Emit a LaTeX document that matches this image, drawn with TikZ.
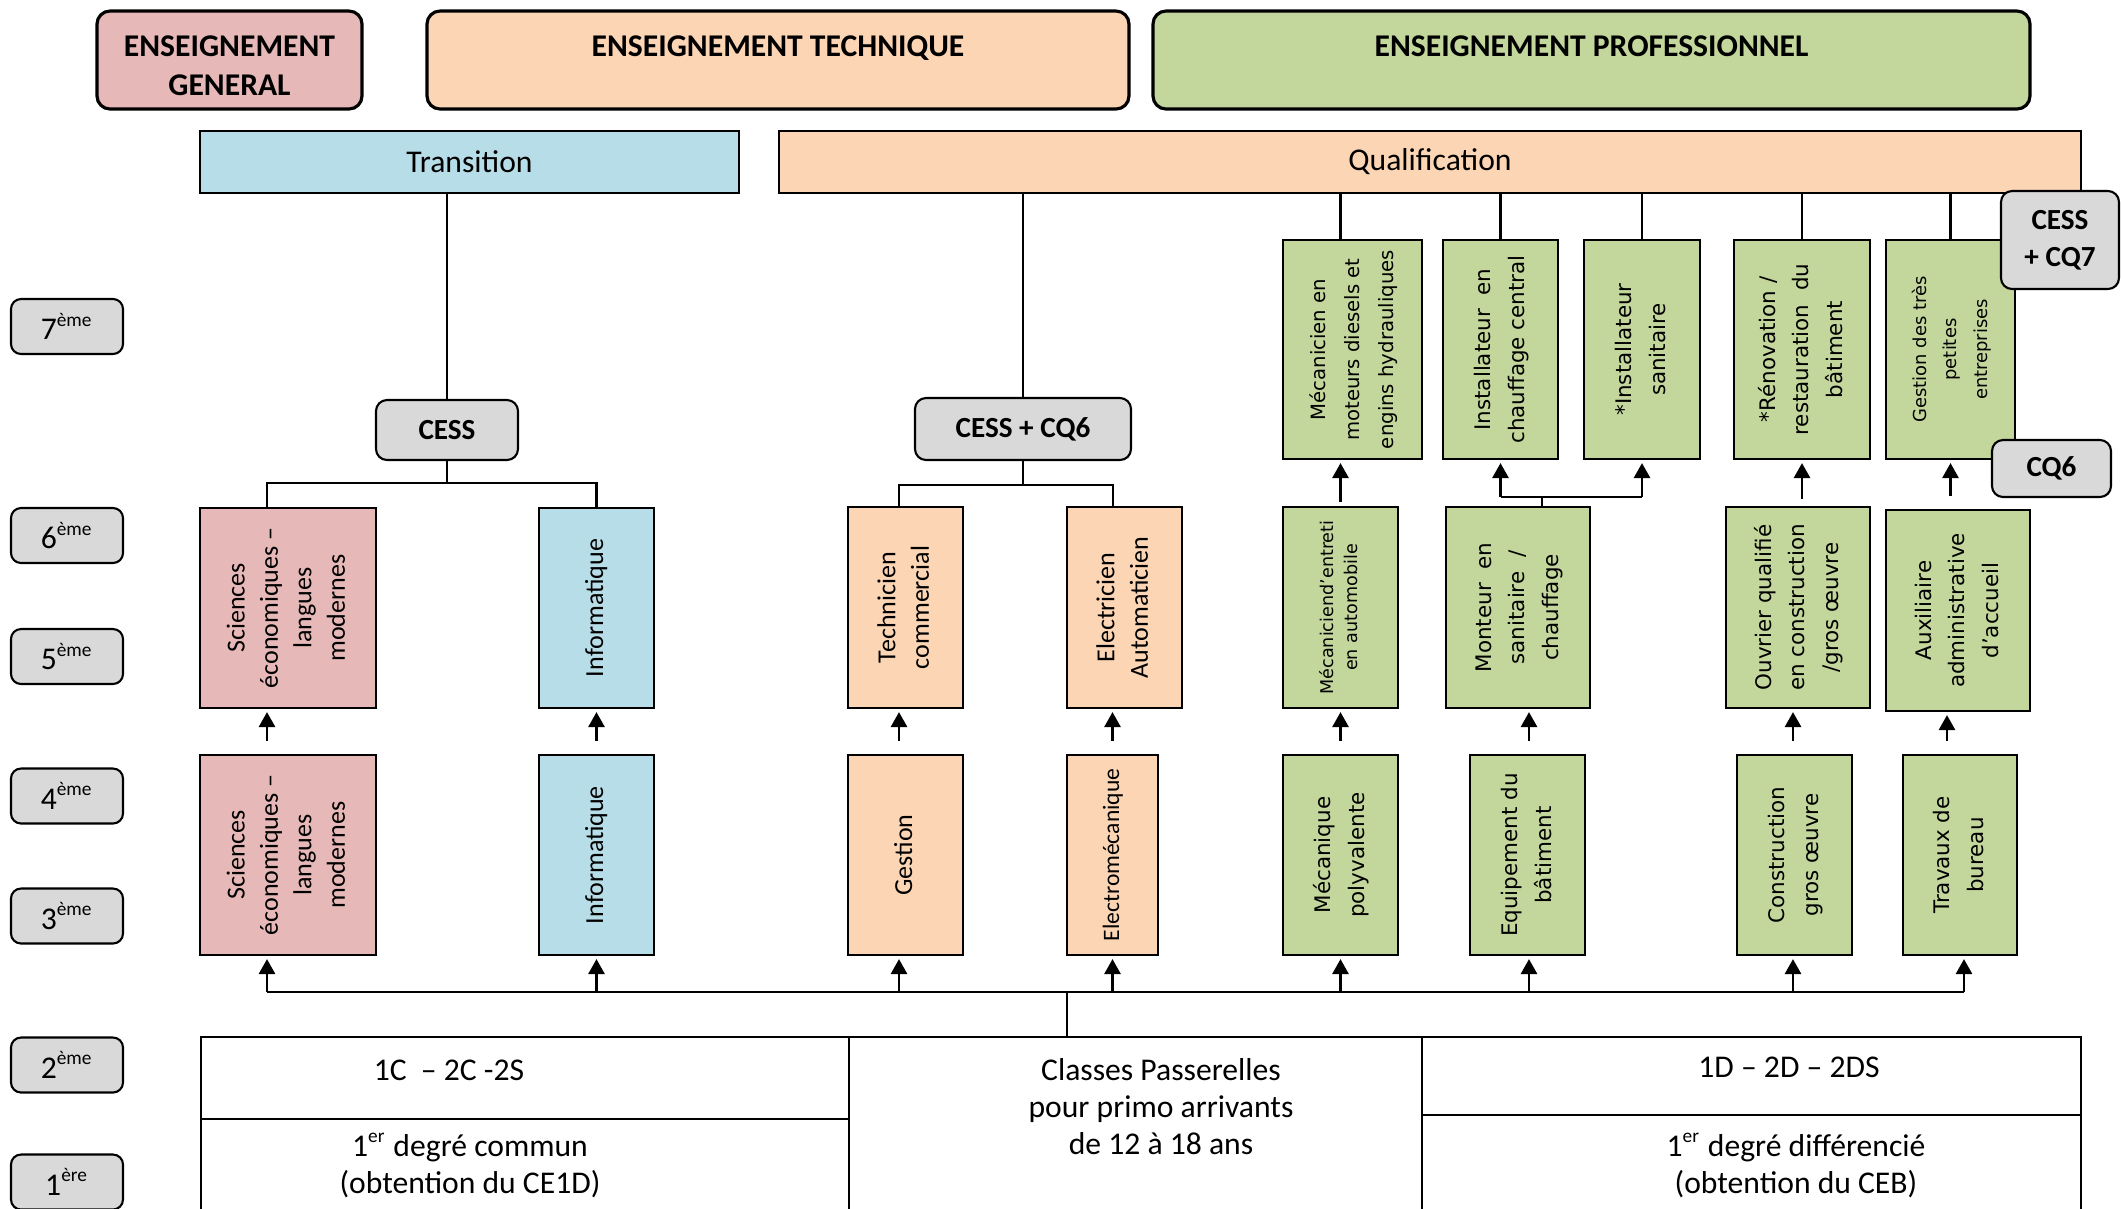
\documentclass[tikz,border=0pt]{standalone}
\usepackage{fontspec}
\usepackage{graphicx}
\setmainfont{Carlito}
\newfontfamily\verd{DejaVu Sans}
\usetikzlibrary{positioning,arrows.meta}

\definecolor{genpink}{HTML}{E6B9B8}
\definecolor{techorange}{HTML}{FCD5B5}
\definecolor{transblue}{HTML}{B7DEE8}
\definecolor{progreen}{HTML}{C3D69B}
\definecolor{certgray}{HTML}{D9D9D9}

% rotated multi-line labels
\newcommand{\rotlines}[2]{\rotatebox{90}{#1\begin{tabular}{@{}c@{}}#2\end{tabular}}}
\newcommand{\carl}{\fontsize{7.4}{9.5}\selectfont}
\newcommand{\carls}{\fontsize{6.7}{9.5}\selectfont}
\newcommand{\dvs}{\verd\fontsize{6.1}{9.6}\selectfont}
\newcommand{\dvsl}{\verd\fontsize{5.6}{9.6}\selectfont}
\newcommand{\dvsm}{\verd\fontsize{5.1}{8.7}\selectfont}
\newcommand{\dvss}{\verd\fontsize{5}{7}\selectfont}
\newcommand{\yrsup}[1]{\textsuperscript{\fontsize{5.5}{6}\selectfont #1}}

\tikzset{
  head/.style={draw,line width=0.9pt,rounded corners=0.13cm},
  headtxt/.style={inner sep=0pt,align=center,font=\fontsize{9}{11}\selectfont\bfseries},
  band/.style={draw,line width=0.8pt,minimum height=0.62cm,font=\fontsize{9}{11}\selectfont},
  lvl/.style={draw,fill=certgray,rounded corners=0.1cm,line width=0.6pt,minimum width=1.12cm,minimum height=0.55cm,font=\fontsize{9}{10}\selectfont},
  cert/.style={draw,fill=certgray,rounded corners=0.11cm,line width=0.6pt,align=center,font=\fontsize{8.3}{10.5}\selectfont\bfseries},
  pbox/.style={draw,line width=0.6pt,inner sep=0pt,minimum height=2cm},
  link/.style={line width=0.6pt},
  bus/.style={line width=0.75pt},
  arr/.style={line width=0.8pt,-{Triangle[length=0.15cm,width=0.16cm]},shorten >=0.03cm},
  cell/.style={draw,line width=0.5pt,inner sep=0pt},
  celltxt/.style={align=center,font=\fontsize{9}{10.5}\selectfont},
}

\begin{document}
\begin{tikzpicture}
    \useasboundingbox (0,0) rectangle (21.21,-12.08);
    \clip (0,0) rectangle (21.21,-12.08);
    %% Headers
    \node[head,fill=genpink,minimum width=2.65cm,minimum height=0.98cm] (hgen) at (2.295,-0.60) {};
    \node[headtxt,below=0.26cm of hgen.north] (hgen-t) {ENSEIGNEMENT\\GENERAL};
    \node[head,fill=techorange,minimum width=7.02cm,minimum height=0.98cm] (htech) at (7.78,-0.60) {};
    \node[headtxt,below=0.26cm of htech.north] (htech-t) {ENSEIGNEMENT TECHNIQUE};
    \node[head,fill=progreen,minimum width=8.77cm,minimum height=0.98cm] (hpro) at (15.915,-0.60) {};
    \node[headtxt,below=0.26cm of hpro.north] (hpro-t) {ENSEIGNEMENT PROFESSIONNEL};
    \node[band,fill=transblue,minimum width=5.39cm] (trans) at (4.695,-1.62) {Transition};
    \node[band,fill=techorange,minimum width=13.02cm] (qual) at (14.30,-1.62) {Qualification};
    %% Years
    \foreach \n/\y/\t in {7/-3.265/ème,6/-5.355/ème,5/-6.565/ème,4/-7.96/ème,3/-9.16/ème,2/-10.65/ème,1/-11.82/ère}
        \node[lvl] (lv\n) at (0.67,\y) {\n\yrsup{\t}};
    %% Certificates
    \node[cert,minimum width=1.42cm,minimum height=0.60cm] (cess) at (4.47,-4.30) {CESS};
    \node[cert,minimum width=2.16cm,minimum height=0.62cm] (cesscq6) at (10.23,-4.29) {CESS + CQ6};
    %% General and technical options
    \node[pbox,fill=genpink,minimum width=1.76cm] (sci2) at (2.88,-6.08) {\rotlines{\carl}{Sciences\\économiques –\\langues\\modernes}};
    \node[pbox,fill=transblue,minimum width=1.15cm] (info2) at (5.965,-6.08) {\rotlines{\carl}{Informatique}};
    \node[pbox,fill=techorange,minimum width=1.15cm,minimum height=2.01cm] (techcom) at (9.055,-6.075) {\rotlines{\carl}{Technicien\\commercial}};
    \node[pbox,fill=techorange,minimum width=1.15cm,minimum height=2.01cm] (elecauto) at (11.245,-6.075) {\rotlines{\carl}{Electricien\\Automaticien}};
    \node[pbox,fill=genpink,minimum width=1.76cm] (sci1) at (2.88,-8.55) {\rotlines{\carl}{Sciences\\économiques –\\langues\\modernes}};
    \node[pbox,fill=transblue,minimum width=1.15cm] (info1) at (5.965,-8.55) {\rotlines{\carl}{Informatique}};
    \node[pbox,fill=techorange,minimum width=1.15cm] (gestion) at (9.055,-8.55) {\rotlines{\carl}{Gestion}};
    \node[pbox,fill=techorange,minimum width=0.91cm] (electromec) at (11.125,-8.55) {\rotlines{\carls}{Electromécanique}};
    %% Professional options
    \node[pbox,fill=progreen,minimum width=1.39cm,minimum height=2.19cm] (mecmot) at (13.525,-3.495) {\rotlines{\dvsl}{Mécanicien en\\moteurs diesels et\\engins hydrauliques}};
    \node[pbox,fill=progreen,minimum width=1.15cm,minimum height=2.19cm] (instchauf) at (15.005,-3.495) {\rotlines{\dvs}{Installateur\ \ en\\chauffage central}};
    \node[pbox,fill=progreen,minimum width=1.16cm,minimum height=2.19cm] (instsan) at (16.42,-3.495) {\rotlines{\dvs}{*Installateur\\sanitaire}};
    \node[pbox,fill=progreen,minimum width=1.36cm,minimum height=2.19cm] (renov) at (18.02,-3.495) {\rotlines{\dvs}{*Rénovation /\\restauration\ \ du\\bâtiment}};
    \node[pbox,fill=progreen,minimum width=1.29cm,minimum height=2.19cm] (gestpe) at (19.505,-3.495) {\rotlines{\dvsm}{Gestion des très\\petites\\entreprises}};
    \node[pbox,fill=progreen,minimum width=1.15cm,minimum height=2.01cm] (mecent) at (13.405,-6.075) {\rotlines{\dvss}{Mécaniciend’entreti\\en automobile}};
    \node[pbox,fill=progreen,minimum width=1.44cm,minimum height=2.01cm] (monteur) at (15.18,-6.075) {\rotlines{\dvs}{Monteur\ \ en\\sanitaire\ \ /\\chauffage}};
    \node[pbox,fill=progreen,minimum width=1.44cm,minimum height=2.01cm] (ouvrier) at (17.98,-6.075) {\rotlines{\dvs}{Ouvrier qualifié\\en construction\\/gros œuvre}};
    \node[pbox,fill=progreen,minimum width=1.44cm,minimum height=2.01cm] (auxil) at (19.58,-6.105) {\rotlines{\dvs}{Auxiliaire\\administrative\\d’accueil}};
    \node[pbox,fill=progreen,minimum width=1.15cm] (mecpoly) at (13.405,-8.55) {\rotlines{\dvs}{Mécanique\\polyvalente}};
    \node[pbox,fill=progreen,minimum width=1.15cm] (equip) at (15.275,-8.55) {\rotlines{\dvs}{Equipement du\\bâtiment}};
    \node[pbox,fill=progreen,minimum width=1.15cm] (constr) at (17.945,-8.55) {\rotlines{\dvs}{Construction\\gros œuvre}};
    \node[pbox,fill=progreen,minimum width=1.14cm] (travaux) at (19.60,-8.55) {\rotlines{\dvs}{Travaux de\\bureau}};
    \node[cert,minimum width=1.18cm,minimum height=0.98cm] (cesscq7) at (20.60,-2.40) {CESS\\+ CQ7};
    \node[cert,minimum width=1.19cm,minimum height=0.57cm] (cq6) at (20.515,-4.685) {CQ6};
    %% First degree
    \node[cell,minimum width=6.48cm,minimum height=0.82cm] (t1c) at (5.25,-10.78) {};
    \node[cell,minimum width=6.48cm,minimum height=0.93cm] (t1d) at (5.25,-11.655) {};
    \node[cell,minimum width=5.73cm,minimum height=1.75cm] (tpass) at (11.355,-11.245) {};
    \node[cell,minimum width=6.59cm,minimum height=0.78cm] (t2d) at (17.515,-10.76) {};
    \node[cell,minimum width=6.59cm,minimum height=0.97cm] (t1diff) at (17.515,-11.635) {};
    \node[celltxt] (t1c-t) at ([xshift=-0.76cm,yshift=0.08cm]t1c.center) {1C\ \ – 2C -2S};
    \node[celltxt] (t1d-t) at ([xshift=-0.55cm]t1d.center) {1\yrsup{er} degré commun\\(obtention du CE1D)};
    \node[celltxt] (tpass-t) at ([xshift=0.255cm,yshift=0.18cm]tpass.center) {Classes Passerelles\\pour primo arrivants\\de 12 à 18 ans};
    \node[celltxt] (t2d-t) at ([xshift=0.375cm,yshift=0.09cm]t2d.center) {1D – 2D – 2DS};
    \node[celltxt] (t1diff-t) at ([xshift=0.445cm,yshift=-0.02cm]t1diff.center) {1\yrsup{er} degré différencié\\(obtention du CEB)};
    %% Links to the certificates
    \draw[link] (cess.north) -- (cess.north |- trans.south);
    \coordinate (cessfork) at ([yshift=-0.22cm]cess.south);
    \coordinate (scitop) at ([xshift=-0.21cm]sci2.north);
    \draw[link] (cess.south) -- (cessfork);
    \draw[link] (scitop) |- (cessfork) -| (info2.north);
    \draw[link] (cesscq6.north) -- (cesscq6.north |- qual.south);
    \coordinate (cq6fork) at ([yshift=-0.24cm]cesscq6.south);
    \coordinate (techtop) at ([xshift=-0.065cm]techcom.north);
    \coordinate (electop) at ([xshift=-0.115cm]elecauto.north);
    \draw[link] (cesscq6.south) -- (cq6fork);
    \draw[link] (techtop) |- (cq6fork) -| (electop);
    \draw[link] (mecmot.north -| mecent.north) -- (qual.south -| mecent.north);
    \foreach \n in {instchauf,instsan,renov,gestpe}
        \draw[link] (\n.north) -- (\n.north |- qual.south);
    %% Progression arrows
    \foreach \lo/\hi/\dx in {sci1/sci2/-0.21,info1/info2/0,gestion/techcom/-0.065,electromec/elecauto/0,mecpoly/mecent/0,equip/monteur/0.015,constr/ouvrier/-0.015,travaux/auxil/-0.13}{
        \coordinate (from) at ([xshift=\dx cm]\lo.north);
        \draw[arr,shorten <=0.13cm] (from) -- (from |- \hi.south);
    }
    \draw[arr,shorten <=0.04cm] (mecent.north) -- (mecent.north |- mecmot.south);
    \draw[arr,shorten <=0.07cm] (ouvrier.north -| renov.south) -- (renov.south);
    \draw[arr,shorten <=0.13cm] (auxil.north -| gestpe.south) -- (gestpe.south);
    \coordinate (monfork) at ([xshift=0.24cm,yshift=0.09cm]monteur.north);
    \draw[link] ([xshift=0.24cm]monteur.north) -- (monfork);
    \draw[link] (monfork -| instchauf.south) -- (monfork -| instsan.south);
    \draw[arr] (monfork -| instchauf.south) -- (instchauf.south);
    \draw[arr] (monfork -| instsan.south) -- (instsan.south);
    %% From the first degree
    \coordinate (busjoin) at ([xshift=-0.685cm,yshift=0.44cm]tpass.north);
    \draw[link] ([xshift=-0.685cm]tpass.north) -- (busjoin);
    \coordinate (busl) at ([xshift=-0.21cm]sci1.south);
    \coordinate (busr) at ([xshift=0.04cm]travaux.south);
    \draw[bus] (busl |- busjoin) -- (busr |- busjoin);
    \foreach \n/\dx in {sci1/-0.21,info1/0,gestion/-0.065,electromec/0,mecpoly/0,equip/0.015,constr/-0.015,travaux/0.04}{
        \coordinate (to) at ([xshift=\dx cm]\n.south);
        \draw[arr] (to |- busjoin) -- (to);
    }
\end{tikzpicture}
\end{document}
